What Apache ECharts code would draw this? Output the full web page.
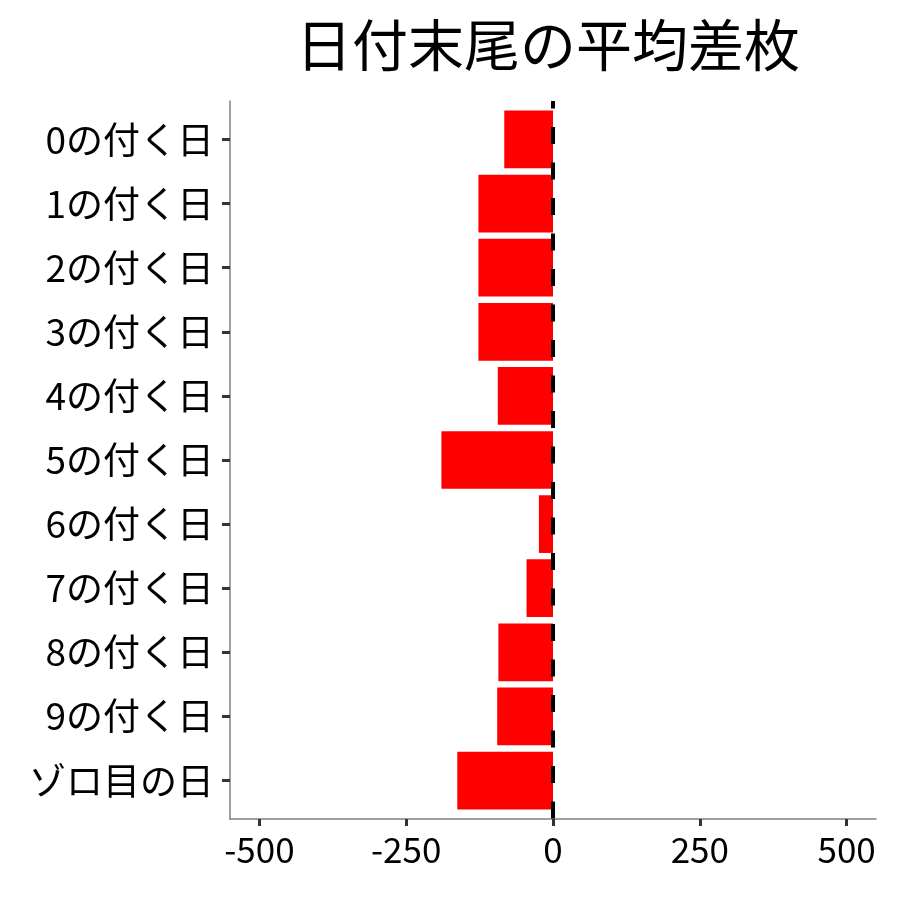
<!DOCTYPE html>
<html>
<head>
<meta charset="utf-8">
<title>日付末尾の平均差枚</title>
<script src="https://cdn.jsdelivr.net/npm/echarts@6/dist/echarts.min.js"></script>
<style>
  html, body { margin: 0; padding: 0; background: #fff; }
  #chart { width: 900px; height: 900px; }
</style>
</head>
<body>
<div id="chart"></div>
<script>
// 日付末尾ごとの平均差枚（上から順に）
var categories = ['0の付く日', '1の付く日', '2の付く日', '3の付く日', '4の付く日',
  '5の付く日', '6の付く日', '7の付く日', '8の付く日', '9の付く日', 'ゾロ目の日'];
var values = [-83, -127, -127, -127, -94, -190, -24, -45, -93, -95, -163];
var xTicks = [-500, -250, 0, 250, 500];
var yTicks = categories.map(function (c, i) { return i; });

var font = 'Noto Sans CJK JP';
var myChart = echarts.init(document.getElementById('chart'));

// 横棒は値軸上に custom で描く（ggplot と同じ幅 0.9）
function renderBar(params, api) {
  var v = api.value(0);
  var i = api.value(1);
  var p0 = api.coord([0, i - 0.45]);
  var p1 = api.coord([v, i + 0.45]);
  return {
    type: 'rect',
    shape: {
      x: Math.min(p0[0], p1[0]),
      y: Math.min(p0[1], p1[1]),
      width: Math.abs(p1[0] - p0[0]),
      height: Math.abs(p1[1] - p0[1])
    },
    style: { fill: '#ff0000' }
  };
}

var option = {
  backgroundColor: '#ffffff',
  animation: false,
  title: {
    text: '日付末尾の平均差枚',
    left: 291,
    top: 12,
    textStyle: { fontFamily: font, fontSize: 56, fontWeight: 'normal', color: '#000' }
  },
  grid: { left: 230, right: 24, top: 101, bottom: 81 },
  xAxis: {
    type: 'value',
    min: -550,
    max: 550,
    axisLine: { show: true, onZero: false, lineStyle: { color: '#808080', width: 1.5 } },
    axisTick: { show: true, customValues: xTicks, length: 7, lineStyle: { color: '#333', width: 3 } },
    axisLabel: { customValues: xTicks, margin: 13, color: '#000', fontFamily: font, fontSize: 35 },
    splitLine: { show: false }
  },
  yAxis: {
    type: 'value',
    inverse: true,
    min: -0.6,
    max: 10.6,
    axisLine: { show: true, onZero: false, lineStyle: { color: '#808080', width: 1.5 } },
    axisTick: { show: true, customValues: yTicks, length: 8, lineStyle: { color: '#333', width: 3 } },
    axisLabel: {
      customValues: yTicks,
      margin: 16,
      color: '#000',
      fontFamily: font,
      fontSize: 37,
      formatter: function (v) { return categories[v]; }
    },
    splitLine: { show: false }
  },
  series: [{
    type: 'custom',
    renderItem: renderBar,
    encode: { x: 0, y: 1 },
    data: values.map(function (v, i) { return [v, i]; }),
    markLine: {
      silent: true,
      symbol: 'none',
      label: { show: false },
      lineStyle: { color: '#000', width: 4, type: [17, 18.5], dashOffset: 9.5 },
      data: [{ xAxis: 0 }]
    }
  }]
};

myChart.setOption(option);
</script>
</body>
</html>
